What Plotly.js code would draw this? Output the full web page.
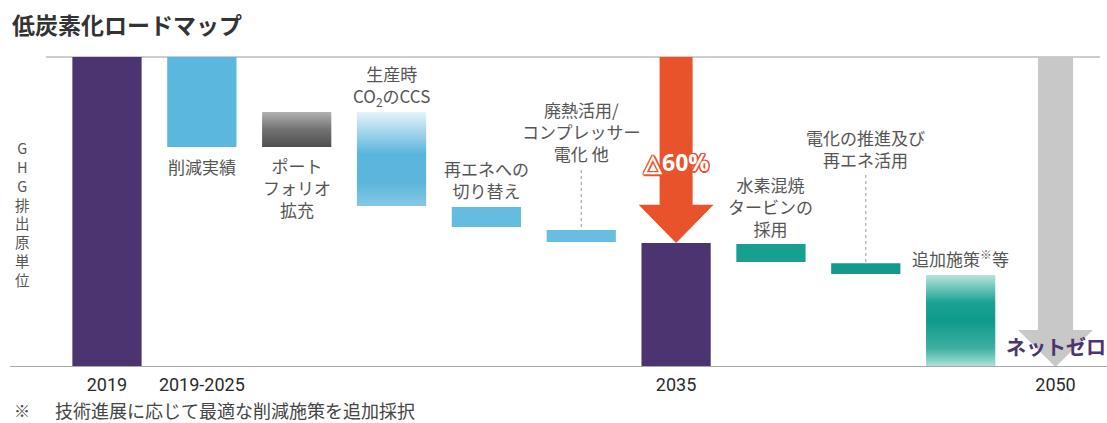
<!DOCTYPE html>
<html>
<head>
<meta charset="utf-8">
<script src="https://cdn.plot.ly/plotly-3.0.1.min.js"></script>
<style>html,body{margin:0;padding:0;background:#fff;}#chart{width:1107px;height:423px;}</style>
</head>
<body>
<div id="chart"></div>
<script>
// ---- data ----
const categories = ['2019', '削減実績', 'ポートフォリオ拡充', '生産時CO2のCCS', '再エネへの切り替え',
  '廃熱活用/コンプレッサー電化 他', '2035', '水素混焼タービンの採用', '電化の推進及び再エネ活用', '追加施策等', '2050'];
const barTop    = [100, 100, 82.3, 82.3, 51.6, 44.2, 40.0, 39.7, 33.5, 29.7, 0];
const barBottom = [0,   71.0, 71.0, 51.9, 45.2, 40.3, 0,   33.9, 30.0, 0,   0];
const tickLabels = ['2019', '2019-2025', '', '', '', '', '2035', '', '', '', '2050'];
const barLabels = ['', '削減実績', 'ポート<br>フォリオ<br>拡充', '生産時<br>CO<sub>2</sub>のCCS', '再エネへの<br>切り替え',
  '廃熱活用/<br>コンプレッサー<br>電化 他', '', '水素混焼<br>タービンの<br>採用', '電化の推進及び<br>再エネ活用', '追加施策<sup>※</sup>等', ''];
const reductionText = '△60%';
const netZeroText = 'ネットゼロ';
const titleText = '低炭素化ロードマップ';
const yLabel = 'GHG排出原単位';
const footnoteMark = '※';
const footnoteText = '技術進展に応じて最適な削減施策を追加採択';

// ---- styles / positions ----
const W = 0.73;
const purple = '#4b3470';
const solidIdx = [0, 1, 4, 5, 6, 7, 8];
const solidColors = {0: purple, 1: '#5bb7dd', 4: '#64bce0', 5: '#68bee1', 6: purple, 7: '#17a08f', 8: '#139a8c'};
const gradIdx = [2, 3, 9];
const gradScales = {
  2: [[0, '#505050'], [0.5, '#727272'], [1, '#b2b2b2']],
  3: [[0, '#86c8e5'], [0.25, '#5cb6dc'], [0.55, '#5ab5dc'], [1, '#e6f3fa']],
  9: [[0, '#b3e2db'], [0.2, '#3fb0a2'], [0.5, '#0e9b8b'], [0.7, '#1aa293'], [1, '#b9e4de']]
};
const labelYpx = [0, 166, 187, 85.5, 179, 131.7, 0, 206.7, 148.5, 258, 0];
const leaderIdx = [5, 8];
const leaderTopPx = {5: 170, 8: 175};
const pxToY = p => (367 - p) / 3.1;

const traces = [];
traces.push({
  type: 'bar', x: solidIdx, base: solidIdx.map(i => barBottom[i]),
  y: solidIdx.map(i => barTop[i] - barBottom[i]), width: W,
  marker: {color: solidIdx.map(i => solidColors[i]), line: {width: 0}},
  hoverinfo: 'skip', showlegend: false
});
gradIdx.forEach(i => {
  const l = i - W / 2, r = i + W / 2, b = barBottom[i], t = barTop[i];
  traces.push({
    type: 'scatter', mode: 'lines', x: [l, r, r, l, l], y: [b, b, t, t, b],
    fill: 'toself', line: {width: 0, color: 'rgba(0,0,0,0)'},
    fillgradient: {type: 'vertical', start: b, stop: t, colorscale: gradScales[i]},
    hoverinfo: 'skip', showlegend: false
  });
});
function arrow(i, from, to, sh, hh, hl, color) {
  return {
    type: 'scatter', mode: 'lines',
    x: [i - sh, i + sh, i + sh, i + hh, i, i - hh, i - sh, i - sh],
    y: [from, from, to + hl, to + hl, to, to + hl, to + hl, from],
    fill: 'toself', fillcolor: color, line: {width: 0, color: 'rgba(0,0,0,0)'},
    hoverinfo: 'skip', showlegend: false
  };
}
traces.push(arrow(6, barTop[0], barTop[6], 0.174, 0.395, 12.3, '#e9532b'));
traces.push(arrow(10, barTop[0], barTop[10], 0.185, 0.395, 11.9, '#c8c8c8'));

const labelFont = {family: 'Noto Sans CJK JP', size: 17, color: '#555'};
const annotations = [];
barLabels.forEach((t, i) => {
  if (!t) return;
  annotations.push({x: i, y: pxToY(labelYpx[i]), xref: 'x', yref: 'y', text: t, showarrow: false,
    font: labelFont, xanchor: 'center', yanchor: 'middle', align: 'center'});
});
const o = '#e9532b';
annotations.push({x: 6, y: pxToY(162), xref: 'x', yref: 'y', text: reductionText, showarrow: false,
  font: {family: 'Open Sans', size: 23, color: '#fff', weight: 'bold',
    shadow: `1.5px 0 0 ${o}, -1.5px 0 0 ${o}, 0 1.5px 0 ${o}, 0 -1.5px 0 ${o}, 1.2px 1.2px 0 ${o}, -1.2px -1.2px 0 ${o}, 1.2px -1.2px 0 ${o}, -1.2px 1.2px 0 ${o}`}});
annotations.push({x: 10, y: pxToY(346), xref: 'x', yref: 'y', text: netZeroText, showarrow: false,
  font: {family: 'Noto Sans CJK JP', size: 20, color: purple, weight: 'bold'}});
annotations.push({x: 22 / 1107, y: (367 - 213.5) / 367, xref: 'paper', yref: 'paper',
  text: Array.from(yLabel).join('<br>'), showarrow: false, xanchor: 'center', yanchor: 'middle', align: 'center',
  font: {family: 'Noto Sans CJK JP', size: 14.5, color: '#555'}});
annotations.push({x: 12 / 1107, y: (367 - 410) / 367, xref: 'paper', yref: 'paper', text: footnoteMark,
  showarrow: false, xanchor: 'left', yanchor: 'middle', font: {family: 'Noto Sans CJK JP', size: 16, color: '#444'}});
annotations.push({x: 53 / 1107, y: (367 - 410) / 367, xref: 'paper', yref: 'paper', text: footnoteText,
  showarrow: false, xanchor: 'left', yanchor: 'middle', font: {family: 'Noto Sans CJK JP', size: 18, color: '#444'}});

const shapes = [
  {type: 'line', xref: 'x', yref: 'y', x0: -0.643, x1: 10.47, y0: 100, y1: 100, line: {color: '#bcbcbc', width: 1.5}, layer: 'below'},
  {type: 'line', xref: 'x', yref: 'y', x0: -1.023, x1: 10.55, y0: 0, y1: 0, line: {color: '#a8a8a8', width: 2}, layer: 'above'}
];
leaderIdx.forEach(i => {
  shapes.push({type: 'line', xref: 'x', yref: 'y', x0: i, x1: i, y0: pxToY(leaderTopPx[i]), y1: barTop[i],
    line: {color: '#999', width: 1, dash: 'dot'}, layer: 'below'});
});

const tickIdx = tickLabels.map((t, i) => t ? i : -1).filter(i => i >= 0);
const layout = {
  width: 1107, height: 423,
  margin: {l: 0, r: 0, t: 0, b: 56},
  paper_bgcolor: '#fff', plot_bgcolor: 'rgba(0,0,0,0)',
  title: {text: titleText, x: 12 / 1107, xref: 'container', xanchor: 'left', y: 1 - 26 / 423, yref: 'container', yanchor: 'middle',
    font: {family: 'Noto Sans CJK JP', size: 23, color: '#333', weight: 'bold'}},
  xaxis: {range: [-1.128, 10.543], tickvals: tickIdx, ticktext: tickIdx.map(i => tickLabels[i]),
    showgrid: false, zeroline: false, showline: false, ticks: '', ticklabelstandoff: 5,
    tickfont: {family: 'Roboto', size: 18, color: '#2a2a2a', weight: 'normal'}, fixedrange: true},
  yaxis: {range: [0, 118.39], visible: false, fixedrange: true},
  showlegend: false, annotations: annotations, shapes: shapes
};
Plotly.newPlot('chart', traces, layout, {staticPlot: true, displayModeBar: false});
</script>
</body>
</html>
